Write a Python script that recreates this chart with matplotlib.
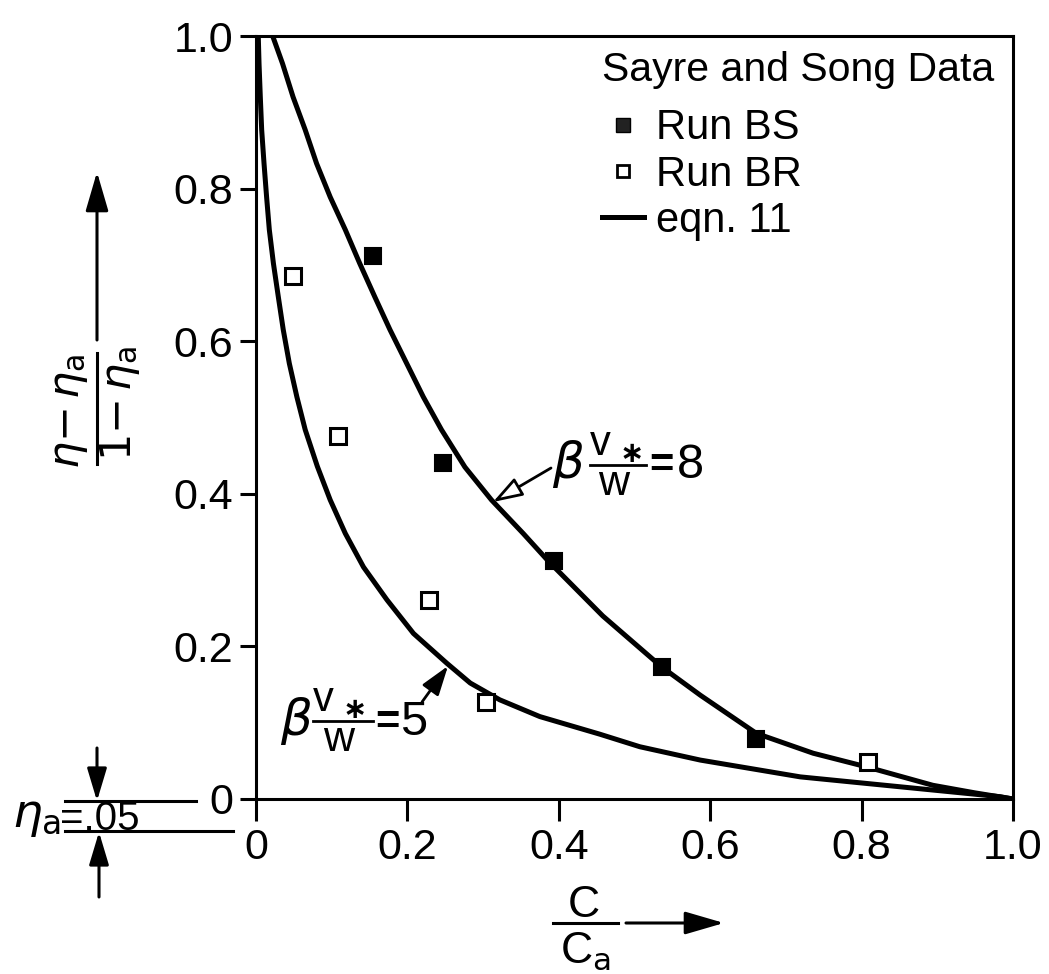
import matplotlib
matplotlib.use("Agg")
import matplotlib.pyplot as plt
from matplotlib.lines import Line2D

plt.rcParams['font.family'] = ['Liberation Sans', 'DejaVu Sans']
plt.rcParams['mathtext.fontset'] = 'dejavusans'

# eqn. 11, beta*v*/w = 8
c_8 = [0.022, 0.035, 0.049, 0.065, 0.080, 0.098, 0.118, 0.137, 0.157, 0.177,
       0.199, 0.221, 0.245, 0.276, 0.311, 0.353, 0.386, 0.458, 0.536, 0.587,
       0.661, 0.736, 0.807, 0.894, 0.950, 1.0]
y_8 = [1.0, 0.964, 0.920, 0.877, 0.833, 0.789, 0.746, 0.702, 0.658, 0.615,
       0.571, 0.527, 0.484, 0.435, 0.392, 0.348, 0.312, 0.240, 0.173, 0.136,
       0.086, 0.060, 0.042, 0.018, 0.008, 0.0]

# eqn. 11, beta*v*/w = 5
c_5 = [0.003, 0.004, 0.0057, 0.0075, 0.0106, 0.014, 0.0176, 0.023, 0.0295, 0.036,
       0.044, 0.054, 0.065, 0.081, 0.098, 0.118, 0.142, 0.173, 0.208, 0.252,
       0.283, 0.322, 0.375, 0.454, 0.507, 0.587, 0.719, 0.851, 0.983, 1.0]
y_5 = [1.0, 0.964, 0.920, 0.877, 0.833, 0.789, 0.746, 0.702, 0.658, 0.615,
       0.571, 0.527, 0.484, 0.436, 0.392, 0.348, 0.304, 0.261, 0.217, 0.178,
       0.152, 0.130, 0.108, 0.085, 0.0685, 0.051, 0.029, 0.016, 0.003, 0.0]

# Sayre and Song runs
bs_c = [0.154, 0.247, 0.393, 0.536, 0.660]
bs_y = [0.712, 0.441, 0.312, 0.173, 0.079]
br_c = [0.049, 0.108, 0.228, 0.304, 0.809]
br_y = [0.685, 0.476, 0.261, 0.127, 0.048]

ticks = [0, 0.2, 0.4, 0.6, 0.8, 1.0]
tick_labels = ['0', '0.2', '0.4', '0.6', '0.8', '1.0']

W, H = 1049, 974
FS = 31

fig = plt.figure(figsize=(W / 100, H / 100), dpi=100)
ax = fig.add_axes([256 / W, 1 - 799 / H, (1013 - 256) / W, (799 - 36) / H])


def fx(px):
    return px / W


def fy(py):
    return 1 - py / H


def txt(px, py, s, **kw):
    kw.setdefault('fontsize', FS)
    kw.setdefault('ha', 'center')
    kw.setdefault('va', 'baseline')
    return fig.text(fx(px), fy(py), s, **kw)


def hline(x0, x1, y, lw=2.2):
    fig.add_artist(Line2D([fx(x0), fx(x1)], [fy(y), fy(y)],
                          transform=fig.transFigure, color='k', lw=lw))


def vline(x, y0, y1, lw=2.2):
    fig.add_artist(Line2D([fx(x), fx(x)], [fy(y0), fy(y1)],
                          transform=fig.transFigure, color='k', lw=lw))


def arrow(x0, y0, x1, y1, fc='k', hl=22, hw=7, lw=2.2):
    ax.annotate('', xy=(x1, H - y1), xycoords='figure pixels',
                xytext=(x0, H - y0), textcoords='figure pixels',
                arrowprops=dict(arrowstyle='-|>,head_length=%g,head_width=%g' % (hl, hw),
                                mutation_scale=1, shrinkA=0, shrinkB=0,
                                fc=fc, ec='k', lw=lw),
                annotation_clip=False)


ax.plot(c_8, y_8, color='k', lw=3.6, solid_capstyle='butt', solid_joinstyle='round')
ax.plot(c_5, y_5, color='k', lw=3.6, solid_capstyle='butt', solid_joinstyle='round')
ax.plot(bs_c, bs_y, ls='none', marker='s', ms=12, mfc='k', mec='k', mew=1.5)
ax.plot(br_c, br_y, ls='none', marker='s', ms=11, mfc='white', mec='k', mew=2.2)

ax.set_xlim(0, 1)
ax.set_ylim(0, 1)
ax.set_xticks(ticks)
ax.set_xticklabels(tick_labels)
ax.set_yticks(ticks)
ax.set_yticklabels(tick_labels)
ax.tick_params(axis='both', direction='out', width=2.2, labelsize=FS, pad=5)
ax.tick_params(axis='x', length=16)
ax.tick_params(axis='y', length=11.5)
for sp in ax.spines.values():
    sp.set_linewidth(2.2)

handles = [
    Line2D([], [], ls='none', marker='s', ms=10, mfc='#222222', mec='k'),
    Line2D([], [], ls='none', marker='s', ms=9, mfc='white', mec='k', mew=2),
    Line2D([], [], color='k', lw=3.6),
]
leg = ax.legend(handles, ['Run BS', 'Run BR', 'eqn. 11'],
                title='Sayre and Song Data', title_fontsize=29.5, fontsize=30,
                loc='upper left', bbox_to_anchor=(fx(602), fy(51)),
                bbox_transform=fig.transFigure, frameon=False, borderpad=0,
                borderaxespad=0, handlelength=1.0, handletextpad=0.3,
                labelspacing=0.15, alignment='left')
leg._legend_box.sep = 14

# curve labels: beta * (v*/w) = value, with a pointer to the curve
for (bx, base, lx0, lx1, ly, eqx, num, numx, tail, head, fc) in [
        (568, 478, 590, 646, 465, 661, '8', 690, (551, 468), (493, 502), 'white'),
        (296, 735, 313, 373, 721, 387, '5', 414, (422, 702), (448, 666), 'k')]:
    txt(bx, base, r'$\beta$', fontsize=36)
    hline(lx0, lx1, ly, lw=2.0)
    txt(lx0 + 10, ly - 10, 'v', fontsize=30)
    txt(lx0 + 42, ly - 3, '\u2217', fontsize=21, fontweight='bold', family='DejaVu Sans')
    txt((lx0 + lx1) / 2 - 4, ly + 30, 'w', fontsize=31)
    txt(eqx, base - 1, '=', fontsize=30, fontweight='bold')
    txt(numx, base, num, fontsize=35)
    arrow(tail[0], tail[1], head[0], head[1], fc=fc, hl=18, hw=6, lw=2.0)

# y axis title
txt(70, 411, r'$\eta{-}\,\eta_{\mathsf{a}}$', rotation=90, va='center', fontsize=31)
vline(97, 353, 464)
txt(120, 403, r'$1{-}\,\eta_{\mathsf{a}}$', rotation=90, va='center', fontsize=31)
arrow(97, 340, 97, 172, hl=24, hw=7)

# x axis title
txt(584, 917, 'C', fontsize=32)
hline(553, 618, 923)
txt(585, 963, r'C$_{\mathsf{a}}$', fontsize=32)
arrow(626, 923, 724, 923, hl=24, hw=7)

# eta_a offset marker
hline(65, 196, 801)
hline(65, 233, 831)
arrow(97, 748, 97, 801, hl=20, hw=6)
arrow(99, 897, 99, 832, hl=20, hw=6)
txt(12, 827, r'$\eta_{\mathsf{a}}$', ha='left', fontsize=34)
txt(60, 830, '=.05', ha='left', fontsize=29)

fig.savefig('out.png', dpi=100)
